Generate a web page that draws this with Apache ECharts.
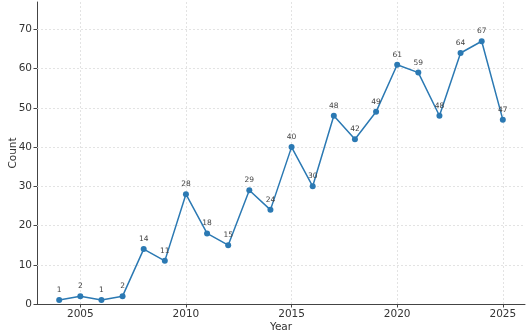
<!DOCTYPE html>
<html><head><meta charset="utf-8">
<script src="https://cdn.jsdelivr.net/npm/echarts@6/dist/echarts.min.js"></script>
<style>html,body{margin:0;padding:0;background:#fff}#c{width:532px;height:335px}</style>
</head><body><div id="c"></div>
<script>
const years = [2004,2005,2006,2007,2008,2009,2010,2011,2012,2013,2014,2015,2016,2017,2018,2019,2020,2021,2022,2023,2024,2025];
const counts = [1,2,1,2,14,11,28,18,15,29,24,40,30,48,42,49,61,59,48,64,67,47];
const xTicks = [2005,2010,2015,2020,2025];
const yTicks = [0,10,20,30,40,50,60,70];
const font = 'DejaVu Sans';
const gridLine = {color: '#dcdcdc', type: [2,2], width: 0.8};
const chart = echarts.init(document.getElementById('c'));
chart.setOption({
  animation: false,
  backgroundColor: '#fff',
  grid: {left: 37, right: 7, top: 2, bottom: 31, containLabel: false, outerBoundsMode: 'none'},
  xAxis: {
    type: 'value', min: 2002.95, max: 2026.05,
    name: 'Year', nameLocation: 'middle', nameGap: 18, nameMoveOverlap: false,
    nameTextStyle: {fontFamily: font, fontSize: 10.5, color: '#333'},
    axisLine: {show: true, onZero: false, lineStyle: {color: '#444', width: 1}},
    axisTick: {show: true, length: 3.5, customValues: xTicks, lineStyle: {color: '#444'}},
    axisLabel: {customValues: xTicks, fontFamily: font, fontSize: 10.5, color: '#333', margin: 5,
      formatter: v => String(v)},
    splitLine: {show: false}
  },
  yAxis: {
    type: 'value', min: 0, max: 77,
    name: 'Count', nameLocation: 'middle', nameGap: 18, nameMoveOverlap: false,
    nameTextStyle: {fontFamily: font, fontSize: 10.5, color: '#333'},
    axisLine: {show: true, lineStyle: {color: '#444', width: 1}},
    axisTick: {show: true, length: 3.5, customValues: yTicks, lineStyle: {color: '#444'}},
    axisLabel: {customValues: yTicks, fontFamily: font, fontSize: 10.5, color: '#333', margin: 5},
    splitLine: {show: false}
  },
  series: [{
    type: 'line',
    data: years.map((y, i) => [y, counts[i]]),
    symbol: 'circle', symbolSize: 6,
    lineStyle: {color: '#2b79b3', width: 1.5},
    itemStyle: {color: '#2b79b3'},
    z: 3,
    label: {show: true, position: 'top', distance: 3, fontFamily: font, fontSize: 7.5, color: '#444',
      formatter: p => p.value[1]},
    markLine: {
      silent: true, symbol: 'none', z: 1,
      label: {show: false},
      lineStyle: gridLine,
      data: xTicks.map(v => ({xAxis: v})).concat(yTicks.slice(1).map(v => ({yAxis: v})))
    }
  }]
});
</script></body></html>
